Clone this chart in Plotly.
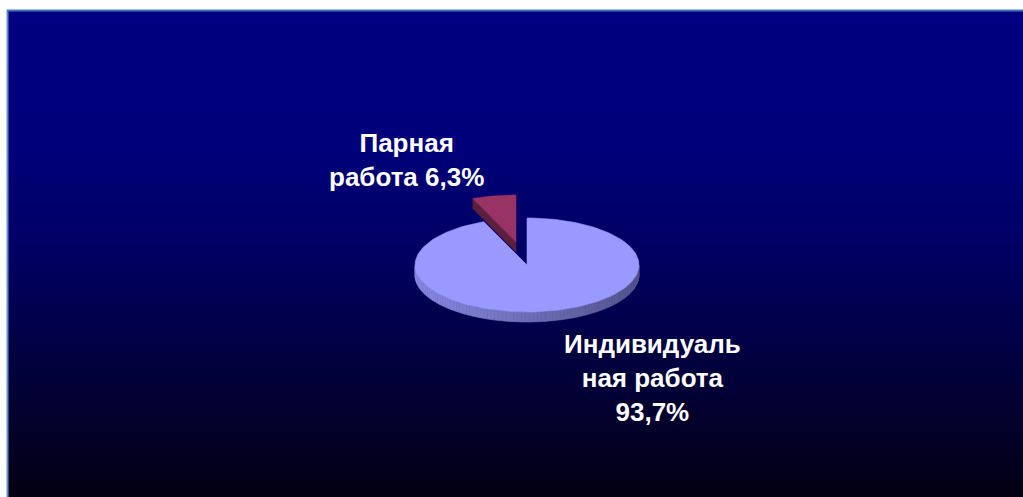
import math
import plotly.graph_objects as go

# --- data -------------------------------------------------------------
labels = ["Индивидуальная работа", "Парная работа"]
values = [93.7, 6.3]
label_lines = ["Индивидуаль<br>ная работа<br>", "Парная<br>работа "]
top_colors = ["#9999ff", "#993366"]
explode = [0.0, 0.5]

# --- canvas -------------------------------------------------------------
W, H = 1023, 497
panel_x0, panel_y0 = 7, 10

# 3-D pie geometry (pixel space, y grows downward)
cx, cy = 527, 265
rx, ry = 112, 47
depth = 10
start_angle = 90.0  # first slice starts at 12 o'clock and runs clockwise


def hex_rgb(h):
    h = h.lstrip("#")
    return tuple(int(h[i:i + 2], 16) for i in (0, 2, 4))


def shade(h, f):
    r, g, b = hex_rgb(h)
    return "rgb({},{},{})".format(*(max(0, min(255, int(round(c * f)))) for c in (r, g, b)))


def pt(theta_deg, ox, oy, dz=0.0):
    t = math.radians(theta_deg)
    return cx + ox + rx * math.cos(t), cy + oy - ry * math.sin(t) + dz


def poly_trace(xs, ys, color):
    return go.Scatter(
        x=list(xs) + [xs[0]], y=list(ys) + [ys[0]],
        mode="lines", fill="toself", fillcolor=color,
        line=dict(color=color, width=0.6),
        hoverinfo="skip", showlegend=False,
    )


fig = go.Figure()

# background gradient: navy at the top fading to near-black at the bottom
ys_edges = list(range(panel_y0, H + 1))
z = [[y] for y in ys_edges[:-1]]
fig.add_trace(go.Heatmap(
    x=[panel_x0, W], y=ys_edges, z=z,
    zmin=panel_y0, zmax=H,
    colorscale=[
        [0.0, "rgb(0,0,128)"],
        [0.28, "rgb(0,0,122)"],
        [0.50, "rgb(0,0,98)"],
        [0.72, "rgb(2,0,62)"],
        [0.88, "rgb(3,0,38)"],
        [1.0, "rgb(3,0,18)"],
    ],
    showscale=False, hoverinfo="skip",
))

# --- slices ------------------------------------------------------------
total = sum(values)
slices = []
cur = start_angle
for i, v in enumerate(values):
    sweep = v / total * 360.0
    a_end = cur
    a_start = cur - sweep  # clockwise sweep
    mid = (a_start + a_end) / 2.0
    ox = explode[i] * rx * math.cos(math.radians(mid))
    oy = -explode[i] * ry * math.sin(math.radians(mid))
    slices.append(dict(i=i, a1=a_start, a2=a_end, mid=mid, ox=ox, oy=oy))
    cur = a_start

# paint back-to-front (slices whose bisector sits higher on screen go first)
order = sorted(slices, key=lambda s: cy + s["oy"] - ry * math.sin(math.radians(s["mid"])))

for s in order:
    col = top_colors[s["i"]]
    a1, a2, ox, oy = s["a1"], s["a2"], s["ox"], s["oy"]

    # outer rim: only the part facing the viewer (front half)
    n = max(2, int((a2 - a1) / 2))
    angs = [a1 + (a2 - a1) * k / n for k in range(n + 1)]
    for k in range(n):
        t0, t1 = angs[k], angs[k + 1]
        tm = (t0 + t1) / 2
        if math.sin(math.radians(tm)) >= 0:
            continue
        p0, p1 = pt(t0, ox, oy), pt(t1, ox, oy)
        q1, q0 = pt(t1, ox, oy, depth), pt(t0, ox, oy, depth)
        f = 0.72 - 0.17 * math.cos(math.radians(tm))
        fig.add_trace(poly_trace([p0[0], p1[0], q1[0], q0[0]],
                                 [p0[1], p1[1], q1[1], q0[1]], shade(col, f)))

    # radial walls that face the viewer
    for edge, normal in ((a1, a1 - 90), (a2, a2 + 90)):
        if math.sin(math.radians(normal)) < -1e-6:
            e_top = pt(edge, ox, oy)
            e_bot = pt(edge, ox, oy, depth)
            c_top = (cx + ox, cy + oy)
            c_bot = (cx + ox, cy + oy + depth)
            fig.add_trace(poly_trace([c_top[0], e_top[0], e_bot[0], c_bot[0]],
                                     [c_top[1], e_top[1], e_bot[1], c_bot[1]],
                                     shade(col, 0.6)))

    # top face
    m = max(8, int((a2 - a1) / 1.5))
    xs, ys = [cx + ox], [cy + oy]
    for k in range(m + 1):
        p = pt(a1 + (a2 - a1) * k / m, ox, oy)
        xs.append(p[0])
        ys.append(p[1])
    fig.add_trace(poly_trace(xs, ys, col))

# --- labels ------------------------------------------------------------
label_pos = [(652, 378), (406, 160)]
for i, v in enumerate(values):
    pct = "{:.1f}".format(v / total * 100).replace(".", ",") + "%"
    fig.add_annotation(
        x=label_pos[i][0], y=label_pos[i][1], xref="x", yref="y",
        text="<b>" + label_lines[i] + pct + "</b>",
        showarrow=False, align="center", xanchor="center", yanchor="middle",
        font=dict(family="Liberation Sans, Arial, sans-serif", size=26, color="white"),
    )

# panel border (left and top edges)
fig.add_shape(type="line", x0=panel_x0 + 0.5, x1=panel_x0 + 0.5, y0=panel_y0, y1=H,
              xref="x", yref="y", line=dict(color="#5f8fd2", width=2))
fig.add_shape(type="line", x0=panel_x0, x1=W, y0=panel_y0 + 0.5, y1=panel_y0 + 0.5,
              xref="x", yref="y", line=dict(color="#4576bd", width=2))

fig.update_layout(
    width=W, height=H,
    margin=dict(l=0, r=0, t=0, b=0),
    paper_bgcolor="white", plot_bgcolor="white",
    xaxis=dict(range=[0, W], visible=False, fixedrange=True),
    yaxis=dict(range=[H, 0], visible=False, fixedrange=True),
    showlegend=False,
)

fig.write_html("out.html", config={"displayModeBar": False})
